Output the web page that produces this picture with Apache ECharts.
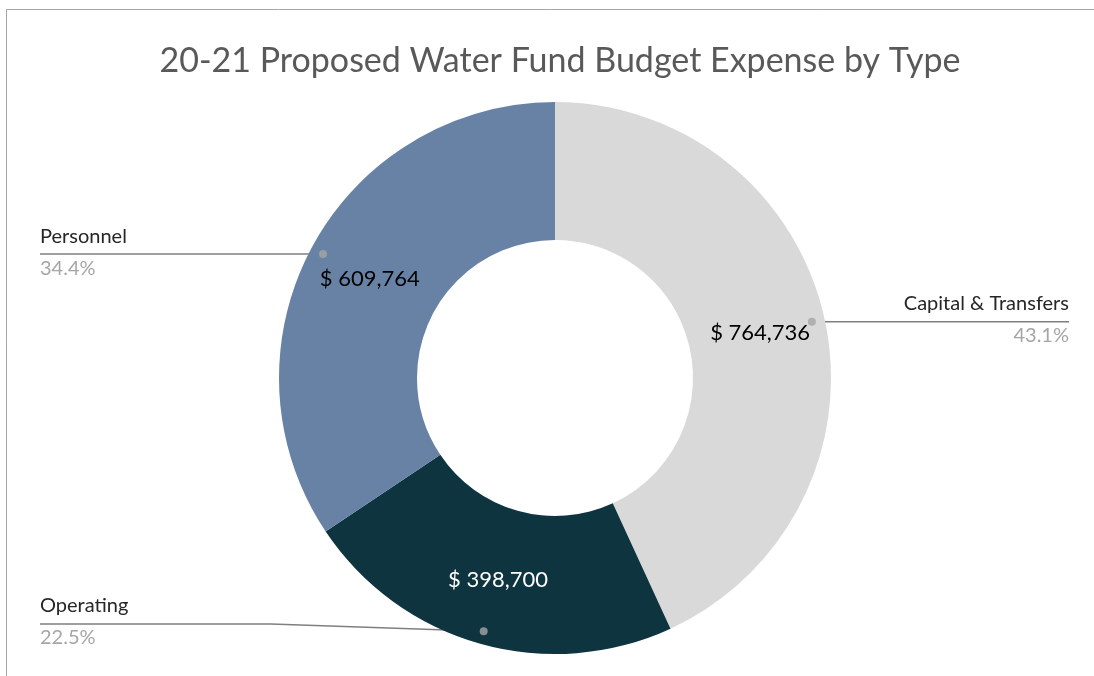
<!DOCTYPE html>
<html>
<head>
<meta charset="utf-8">
<script src="https://cdn.jsdelivr.net/npm/echarts@6/dist/echarts.min.js"></script>
<style>
  html, body { margin: 0; padding: 0; background: #fff; }
  #chart { width: 1094px; height: 676px; }
</style>
</head>
<body>
<div id="chart"></div>
<script>
// ---- data ----
const chartTitle = '20-21 Proposed Water Fund Budget Expense by Type';
const categories = ['Capital & Transfers', 'Operating', 'Personnel'];
const amounts = [764736, 398700, 609764];
const sliceColors = ['#D9D9D9', '#0E3440', '#6882A5'];
const amountTextColors = ['#000000', '#FFFFFF', '#000000'];

// ---- layout constants ----
const FONT = 'Lato, "Open Sans", sans-serif';
const CX = 555, CY = 378;          // donut centre
const R_OUT = 276, R_IN = 138;     // donut radii
const R_ANCHOR = 263;              // where the leader lines start
const LEFT_EDGE = 40, RIGHT_EDGE = 1069;
const LABEL_BOTTOM_LIMIT = 648;    // callouts stay above this line

const total = amounts.reduce((a, b) => a + b, 0);
// middle of each slice along the angle axis (data units)
const sliceMids = [];
let running = 0;
amounts.forEach(v => { sliceMids.push(running + v / 2); running += v; });

const money = v => '$ ' + v.toLocaleString('en-US');

const chart = echarts.init(document.getElementById('chart'), null, { renderer: 'canvas' });

chart.setOption({
  animation: false,
  backgroundColor: '#ffffff',
  graphic: [{
    type: 'rect',
    silent: true,
    z: -10,
    shape: { x: 6.5, y: 9.5, width: 1200, height: 800 },
    style: { fill: 'none', stroke: '#A6A6A6', lineWidth: 1 }
  }],
  title: {
    text: chartTitle,
    left: CX,
    textAlign: 'center',
    top: 39,
    textStyle: { fontFamily: FONT, fontWeight: 400, fontSize: 34, color: '#595959' }
  },
  polar: { center: [CX, CY], radius: R_ANCHOR },
  angleAxis: { type: 'value', min: 0, max: total, startAngle: 90, clockwise: true, show: false },
  radiusAxis: { type: 'value', min: 0, max: 1, show: false },
  series: [
    {
      // the donut with the amounts written inside each slice
      type: 'pie',
      silent: true,
      center: [CX, CY],
      radius: [R_IN, R_OUT],
      startAngle: 90,
      clockwise: true,
      data: categories.map((name, i) => ({
        name: name,
        value: amounts[i],
        itemStyle: { color: sliceColors[i] },
        label: { color: amountTextColors[i] }
      })),
      label: {
        show: true,
        position: 'inside',
        formatter: p => money(p.value),
        fontFamily: FONT,
        fontSize: 22
      },
      labelLine: { show: false }
    },
    {
      // transparent copy carrying the category / percent callouts
      type: 'pie',
      silent: true,
      center: [CX, CY],
      radius: [0, R_ANCHOR],
      startAngle: 90,
      clockwise: true,
      itemStyle: { color: 'rgba(0,0,0,0)' },
      data: categories.map((name, i) => ({ name: name, value: amounts[i] })),
      label: {
        show: true,
        position: 'outside',
        formatter: p => '{n|' + p.name + '}\n{p|' + p.percent.toFixed(1) + '%}',
        rich: {
          n: { fontFamily: FONT, fontSize: 20, color: '#262626', lineHeight: 32 },
          p: { fontFamily: FONT, fontSize: 20, color: '#A6A6A6', lineHeight: 32 }
        }
      },
      labelLine: {
        show: true,
        length: 0,
        length2: 10,
        smooth: false,
        lineStyle: { color: '#7F7F7F', width: 1.5 }
      },
      labelLayout: function (params) {
        const pts = params.labelLinePoints;
        if (!pts) return {};
        const start = pts[0];
        const isLeft = start[0] < CX;
        const endX = isLeft ? LEFT_EDGE : RIGHT_EDGE;
        const halfH = params.labelRect.height / 2;
        // keep the callout inside the plot: lift it if it would run past the bottom
        const y = Math.min(start[1] - 2, LABEL_BOTTOM_LIMIT - halfH);
        const lineY = y + 2;
        let linePts;
        if (Math.abs(lineY - start[1]) < 1) {
          linePts = [start, [endX, start[1]]];
        } else {
          const bendX = endX + (start[0] - endX) * 0.52;
          linePts = [start, [bendX, lineY], [endX, lineY]];
        }
        return {
          x: endX,
          y: y,
          align: isLeft ? 'left' : 'right',
          verticalAlign: 'middle',
          labelLinePoints: linePts
        };
      }
    },
    {
      // anchor dots at the start of each leader line
      type: 'scatter',
      coordinateSystem: 'polar',
      silent: true,
      symbol: 'circle',
      symbolSize: 8,
      itemStyle: { color: '#A5A5A5' },
      data: sliceMids.map(m => [1, m]),
      z: 5
    }
  ]
});
</script>
</body>
</html>
